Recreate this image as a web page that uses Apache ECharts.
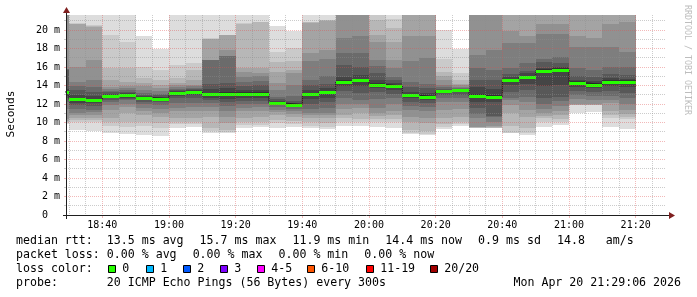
<!DOCTYPE html>
<html><head><meta charset="utf-8">
<script src="https://cdn.jsdelivr.net/npm/echarts@6/dist/echarts.min.js"></script>
<style>html,body{margin:0;padding:0;background:#fff}#c{width:697px;height:297px}</style>
</head><body><div id="c"></div>
<script>
// ================= DATA =================
const axisStart = '18:29:06';
const axisEnd = '21:29:06';
const probeStepMin = 5; // 300 s
const xTickLabels = ['18:40','19:00','19:20','19:40','20:00','20:20','20:40','21:00','21:20'];
const xMinorTimes = ['18:30','18:35','18:45','18:50','18:55','19:05','19:10','19:15','19:25','19:30','19:35',
  '19:45','19:50','19:55','20:05','20:10','20:15','20:25','20:30','20:35','20:45','20:50','20:55',
  '21:05','21:10','21:15','21:25'];
const yTickValues = [0,2,4,6,8,10,12,14,16,18,20];
const yMinorValues = [1,3,5,7,9,11,13,15,17,19,21];
const yMax = 21.62;

const barStarts = ['18:25','18:30','18:35','18:40','18:45','18:50','18:55','19:00','19:05','19:10','19:15',
  '19:20','19:25','19:30','19:35','19:40','19:45','19:50','19:55','20:00','20:05','20:10','20:15','20:20',
  '20:25','20:30','20:35','20:40','20:45','20:50','20:55','21:00','21:05','21:10','21:15'];

const medians = [13.3,12.5,12.43,12.86,13.0,12.68,12.58,13.2,13.3,13.08,13.08,13.08,13.08,12.1,11.93,13.08,
  13.3,14.41,14.6,14.1,13.95,12.94,12.8,13.4,13.5,12.86,12.8,14.6,14.9,15.6,15.68,14.3,14.1,14.4,14.41];

// 20 sorted ping rtts (ms) per 5-minute step
const pings = [
  [9.8,9.9,10.0,10.2,10.4,11.5,12.2,12.6,12.9,13.2,13.4,13.6,15.7,15.75,15.8,22,23,24,25,26],
  [9.2,10.0,10.25,10.5,10.8,11.0,11.5,11.9,12.1,12.35,12.7,13.0,13.5,13.9,14.4,16.0,20.6,20.7,20.8,24],
  [9.1,10.1,10.3,10.5,10.8,11.1,11.4,11.8,12.1,12.3,12.55,12.9,13.3,13.8,14.6,16.8,20.3,20.4,20.5,23],
  [8.9,9.6,10.0,10.5,11.3,11.9,12.2,12.4,12.6,12.75,12.95,13.1,13.25,13.4,13.6,13.8,14.6,15.9,19.5,25],
  [8.8,9.5,10.1,11.0,11.7,12.0,12.4,12.5,12.7,12.9,13.1,13.2,13.35,13.5,13.7,13.9,14.4,15.9,18.7,24],
  [8.65,9.6,10.1,10.8,11.2,11.6,12.0,12.25,12.45,12.6,12.75,12.85,13.0,13.2,13.5,13.9,14.3,14.8,16.0,19.3],
  [8.5,9.4,9.9,10.6,11.0,11.5,11.9,12.2,12.3,12.45,12.7,12.8,12.95,13.1,13.4,13.7,14.1,14.6,15.7,17.9],
  [9.37,9.8,10.0,10.45,11.2,11.6,12.07,12.6,12.9,13.1,13.3,13.4,13.5,13.65,13.85,14.05,14.3,14.8,16.2,23],
  [9.55,9.8,10.0,10.5,11.2,11.7,12.1,12.6,13.0,13.2,13.4,13.5,13.6,13.75,13.9,14.1,14.6,15.7,16.4,22.5],
  [8.9,9.1,9.37,10.6,11.2,11.7,12.07,12.4,12.6,12.95,13.2,13.6,14.2,16.75,16.75,16.8,19.0,19.0,19.1,24],
  [8.83,8.95,9.2,9.9,10.6,11.2,11.8,12.2,12.5,12.9,13.25,13.7,14.3,17.15,17.2,17.8,19.45,19.45,19.5,25],
  [9.37,9.7,10.0,10.5,11.2,11.6,12.0,12.3,12.6,12.9,13.25,13.5,13.9,14.4,14.9,15.5,15.9,20.7,20.75,24],
  [9.48,9.75,10.05,10.6,11.25,11.7,12.05,12.35,12.65,12.9,13.25,13.55,14.0,14.5,15.0,15.4,15.85,20.85,20.9,23.5],
  [9.4,9.9,10.3,10.8,11.1,11.4,11.7,11.85,11.95,12.05,12.15,12.3,12.5,12.8,13.5,14.3,15.5,16.5,17.6,20.4],
  [9.5,9.8,10.2,10.6,10.9,11.2,11.45,11.65,11.8,11.9,11.95,12.1,12.3,12.9,14.0,15.3,15.7,16.7,18.0,19.9],
  [9.37,9.6,10.0,10.45,10.8,11.0,11.5,12.0,12.5,12.95,13.2,13.5,14.0,14.6,16.6,17.5,20.8,20.85,20.9,24],
  [9.26,9.5,9.9,10.45,10.8,11.0,11.6,12.2,12.6,13.15,13.45,13.7,14.2,15.0,16.9,17.8,21.0,21.05,21.1,24],
  [9.6,10.0,10.5,10.8,11.5,12.0,12.7,13.4,13.9,14.25,14.55,14.95,16.2,17.5,19.1,22,23,24,25,27],
  [9.6,10.0,10.4,11.0,11.6,12.0,12.4,13.2,13.9,14.45,14.75,15.1,16.0,17.5,19.3,22.5,23,24,25,26],
  [9.5,10.0,10.4,10.7,11.0,11.6,12.5,13.3,13.7,13.95,14.3,14.6,15.3,16.1,16.8,18.7,19.46,21.1,23,25],
  [9.44,10.0,10.4,10.8,11.2,12.0,12.6,13.1,13.5,13.8,14.1,14.3,14.6,14.95,15.85,16.8,18.7,20.2,21.2,23],
  [8.75,8.9,9.2,10.0,10.6,11.3,11.8,12.2,12.6,12.85,13.05,13.3,13.8,14.4,16.6,19.3,22,23,24,26],
  [8.65,8.8,9.1,9.9,10.5,11.2,11.7,12.1,12.45,12.7,12.9,13.2,13.7,14.2,17.0,19.4,22,23,24,25],
  [9.3,9.5,9.8,10.5,11.4,12.2,12.7,13.0,13.2,13.35,13.5,13.55,13.65,13.8,14.1,14.6,15.0,15.5,16.9,20.0],
  [9.6,9.8,10.0,10.6,11.5,12.2,12.7,13.0,13.3,13.45,13.55,13.6,13.65,13.75,13.85,14.0,14.2,14.6,15.4,17.9],
  [9.4,9.42,9.44,9.46,9.5,10.5,10.9,11.6,12.2,12.6,13.1,13.8,14.6,15.9,17.3,22,23,24,25,26],
  [9.37,9.4,9.45,9.5,9.6,10.0,10.6,10.7,12.2,12.6,13.0,13.6,14.6,15.7,17.8,22,23,24,25,26],
  [8.83,8.85,9.6,11.0,11.9,12.4,12.7,13.3,14.0,14.45,14.75,14.9,15.2,15.9,18.6,19.9,22,23,24,25],
  [8.7,8.9,9.44,10.6,11.4,12.2,12.8,13.5,14.2,14.75,15.05,15.3,15.6,16.4,18.6,19.3,22,23,24,25],
  [9.55,10.1,10.5,10.7,11.0,11.5,12.0,12.6,13.9,15.45,15.75,15.9,16.5,16.9,19.6,20.7,22,23,24,25],
  [9.73,10.0,10.4,10.8,11.2,11.8,12.3,12.8,14.1,15.5,15.85,16.0,16.4,17.1,19.6,20.6,22,23,24,25],
  [11.0,11.85,11.88,11.9,11.95,12.5,12.97,13.4,13.8,14.15,14.45,14.6,15.0,15.85,18.2,19.3,22,23,24,25],
  [11.17,11.85,11.88,11.9,11.95,12.4,12.9,13.3,13.7,13.95,14.25,14.5,14.9,15.7,18.2,19.1,22,23,24,25],
  [9.55,10.5,10.8,11.2,12.07,12.4,12.9,13.4,13.9,14.25,14.55,14.8,15.2,16.0,18.2,20.7,22,23,24,25],
  [9.26,10.4,10.6,10.9,11.35,12.0,12.6,13.2,13.8,14.25,14.55,14.75,15.1,16.0,17.66,20.9,22,23,24,25]
];

const rttValues = [13.5, 15.7, 11.9, 14.4, 0.9];
const rttNames = ['avg', 'max', 'min', 'now', 'sd'];
const ampsValue = 14.8;
const lossValues = [0, 0, 0, 0];
const lossNames = ['avg', 'max', 'min', 'now'];
const lossLabels = ['0','1','2','3','4-5','6-10','11-19','20/20'];
const lossColors = ['#26ff00','#00b8ff','#0059ff','#7e00ff','#ff00ff','#ff5500','#ff0000','#a00000'];
const probeText = '20 ICMP Echo Pings (56 Bytes) every 300s';
const dateText = 'Mon Apr 20 21:29:06 2026';
const unitText = 'Seconds';
const watermarkText = 'RRDTOOL / TOBI OETIKER';

// ================= HELPERS / STYLE =================
const toMin = s => { const p = s.split(':').map(Number); return p[0]*60 + p[1] + (p[2]||0)/60; };
const fmtHM = v => { const h = Math.floor(v/60 + 1e-9), m = Math.round(v - h*60); return String(h).padStart(2,'0') + ':' + String(m).padStart(2,'0'); };
const MONO = '"DejaVu Sans Mono", monospace';
const GRID_C = 'rgba(143,143,143,0.45)';
const MGRID_C = 'rgba(222,79,79,0.4)';
const AXIS_C = '#1f1f1f';
const ARROW_C = '#7f1f1f';

const xMin = toMin(axisStart), xMax = toMin(axisEnd);
const smokeData = barStarts.map((t, i) => [toMin(t), toMin(t) + probeStepMin].concat(pings[i]));
const lossData = barStarts.map((t, i) => [toMin(t), toMin(t) + probeStepMin, medians[i]]);
const medianLine = barStarts.map((t, i) => [toMin(t), medians[i]]);
medianLine.push([toMin(barStarts[barStarts.length-1]) + probeStepMin, medians[medians.length-1]]);

function clipX(params, api) {
  const cs = params.coordSys;
  const x0 = Math.round(api.coord([api.value(0), 0])[0]);
  const x1 = Math.round(api.coord([api.value(1), 0])[0]);
  return [Math.max(x0, cs.x), Math.min(x1, cs.x + cs.width)];
}
function renderSmoke(params, api) {
  const cs = params.coordSys;
  const [l, r] = clipX(params, api);
  if (r <= l) return null;
  const children = [];
  for (let k = 1; k <= 10; k++) {
    const lo = api.value(1 + k), hi = api.value(22 - k);
    let yT = Math.round(api.coord([0, hi])[1]);
    let yB = Math.round(api.coord([0, lo])[1]);
    yT = Math.max(yT, cs.y); yB = Math.min(yB, cs.y + cs.height);
    if (yB <= yT) continue;
    const g = Math.floor(190 / 10 * (10 - k)) + 50;
    children.push({ type: 'rect', shape: { x: l, y: yT, width: r - l, height: yB - yT },
      style: { fill: 'rgb(' + g + ',' + g + ',' + g + ')' } });
  }
  return { type: 'group', children };
}
function renderLoss(params, api) {
  const [l, r] = clipX(params, api);
  if (r <= l) return null;
  const y = Math.round(api.coord([0, api.value(2)])[1]);
  return { type: 'rect', shape: { x: l, y: y - 1, width: r - l, height: 3 }, style: { fill: lossColors[0] } };
}

// ================= TEXT LAYOUT =================
const FS = 11.6, CW = FS * 0.6021, TX = 16, VX = TX + 13 * CW, GAP = 16;
const lineY = [241, 255, 268.8, 282.7];
const graphics = [];
function txt(x, y, s, extra) {
  graphics.push(Object.assign({ type: 'text', x, y, silent: true,
    style: { text: s, font: FS + 'px ' + MONO, fill: '#000', align: 'left', verticalAlign: 'middle' } }, extra || {}));
}
txt(TX, lineY[0], 'median rtt:');
let cx = VX;
rttValues.forEach((v, i) => { const s = v.toFixed(1) + ' ms ' + rttNames[i]; txt(cx, lineY[0], s); cx += s.length * CW + GAP; });
txt(cx, lineY[0], ampsValue.toFixed(1) + '   am/s');
txt(TX, lineY[1], 'packet loss:');
cx = VX;
lossValues.forEach((v, i) => { const s = v.toFixed(2) + ' % ' + lossNames[i]; txt(cx, lineY[1], s); cx += s.length * CW + GAP; });
txt(TX, lineY[2], 'loss color:');
const lossBoxX = [108, 146, 183, 220, 257, 307, 366, 430];
lossLabels.forEach((s, i) => {
  graphics.push({ type: 'rect', silent: true, shape: { x: lossBoxX[i] + 0.5, y: 265.5, width: 7, height: 7 },
    style: { fill: lossColors[i], stroke: '#000', lineWidth: 1 } });
  txt(lossBoxX[i] + 14.2, lineY[2], s);
});
txt(TX, lineY[3], 'probe:');
txt(VX, lineY[3], probeText);
graphics.push({ type: 'text', x: 681, y: lineY[3], silent: true,
  style: { text: dateText, font: FS + 'px ' + MONO, fill: '#000', align: 'right', verticalAlign: 'middle' } });
graphics.push({ type: 'text', x: 10.8, y: 114, rotation: Math.PI / 2, silent: true,
  style: { text: unitText, font: '11.2px ' + MONO, fill: '#000', align: 'center', verticalAlign: 'middle' } });
graphics.push({ type: 'text', x: 687, y: 60, rotation: -Math.PI / 2, silent: true,
  style: { text: watermarkText, font: '8.3px ' + MONO, fill: '#bdbdbd', align: 'center', verticalAlign: 'middle' } });
// axis extensions and arrows
graphics.push({ type: 'line', silent: true, z: 20, shape: { x1: 63, y1: 215.5, x2: 670, y2: 215.5 }, style: { stroke: AXIS_C, lineWidth: 1 } });
graphics.push({ type: 'line', silent: true, z: 20, shape: { x1: 66.5, y1: 219, x2: 66.5, y2: 12 }, style: { stroke: AXIS_C, lineWidth: 1 } });
graphics.push({ type: 'polygon', silent: true, z: 21, shape: { points: [[669, 212], [675, 215.5], [669, 219]] }, style: { fill: ARROW_C } });
graphics.push({ type: 'polygon', silent: true, z: 21, shape: { points: [[63, 13], [66.5, 7], [70, 13]] }, style: { fill: ARROW_C } });

// ================= CHART =================
const chart = echarts.init(document.getElementById('c'), null, { renderer: 'canvas' });
chart.setOption({
  animation: false,
  backgroundColor: '#ffffff',
  grid: { left: 66, top: 15, width: 600, height: 200, containLabel: false },
  xAxis: [{
    type: 'value', min: xMin, max: xMax, z: 10,
    axisLine: { show: false },
    axisTick: { show: true, customValues: xTickLabels.map(toMin), length: 3, lineStyle: { color: MGRID_C } },
    axisLabel: { customValues: xTickLabels.map(toMin), formatter: fmtHM, fontFamily: MONO, fontSize: 10, color: '#000', margin: 5 },
    splitLine: { show: true, lineStyle: { color: MGRID_C, type: [1, 1], width: 1 } }
  }, {
    type: 'value', min: xMin, max: xMax, z: 9, position: 'bottom',
    axisLine: { show: false },
    axisTick: { show: false, customValues: xMinorTimes.map(toMin) },
    axisLabel: { show: false, customValues: xMinorTimes.map(toMin) },
    splitLine: { show: true, lineStyle: { color: GRID_C, type: [1, 1], width: 1 } }
  }],
  yAxis: [{
    type: 'value', min: 0, max: yMax, z: 10, position: 'left',
    axisLine: { show: false },
    axisTick: { show: true, customValues: yTickValues, length: 2, lineStyle: { color: MGRID_C } },
    axisLabel: { customValues: yTickValues, formatter: v => v === 0 ? '0  ' : v + ' m', fontFamily: MONO, fontSize: 10, color: '#000', margin: 6 },
    splitLine: { show: true, showMinLine: false, lineStyle: { color: MGRID_C, type: [1, 1], width: 1 } }
  }, {
    type: 'value', min: 0, max: yMax, z: 9, position: 'left',
    axisLine: { show: false },
    axisTick: { show: true, customValues: yMinorValues, length: 2, lineStyle: { color: GRID_C } },
    axisLabel: { show: false, customValues: yMinorValues },
    splitLine: { show: true, lineStyle: { color: GRID_C, type: [1, 1], width: 1 } }
  }],
  series: [
    { type: 'custom', name: 'smoke', renderItem: renderSmoke, data: smokeData, z: 2, clip: true, silent: true,
      encode: { x: [0, 1], y: 2 } },
    { type: 'line', name: 'median', data: medianLine, step: 'end', symbol: 'none', z: 3, silent: true,
      lineStyle: { color: '#202020', width: 1 } },
    { type: 'custom', name: 'loss 0', renderItem: renderLoss, data: lossData, z: 4, clip: true, silent: true,
      encode: { x: [0, 1], y: 2 } }
  ],
  graphic: graphics
});
</script></body></html>
